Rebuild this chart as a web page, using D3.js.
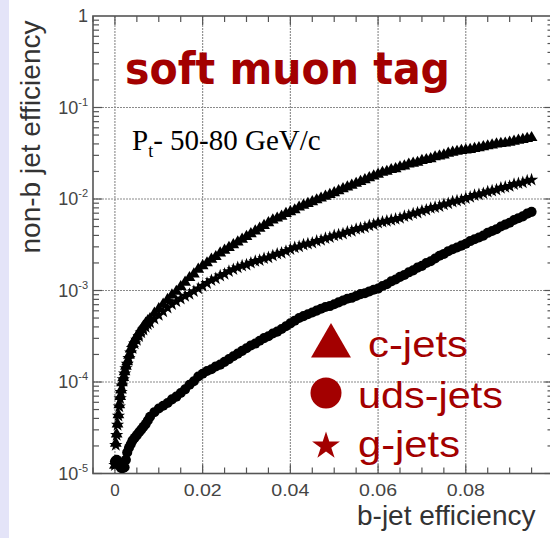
<!DOCTYPE html>
<html>
<head>
<meta charset="utf-8">
<script src="https://cdn.jsdelivr.net/npm/d3@7"></script>
<style>
  html, body { margin: 0; padding: 0; background: #ffffff; }
  svg { display: block; }
</style>
</head>
<body>
<svg id="chart" width="550" height="538"></svg>
<script>
// ---------------- data ----------------
const bEff = [0, 0.0002, 0.0004, 0.0006, 0.0008, 0.001, 0.0012, 0.0014, 0.0016, 0.0019,
  0.0022, 0.0025, 0.0028, 0.0032, 0.0036, 0.004, 0.0045, 0.005, 0.0055, 0.006,
  0.0065, 0.007, 0.0075, 0.008, 0.009, 0.010,
  0.011, 0.012, 0.013, 0.014, 0.015, 0.016, 0.017, 0.018, 0.019, 0.020,
  0.021, 0.022, 0.023, 0.024, 0.025, 0.026, 0.027, 0.028, 0.029, 0.030,
  0.031, 0.032, 0.033, 0.034, 0.035, 0.036, 0.037, 0.038, 0.039, 0.040,
  0.041, 0.042, 0.043, 0.044, 0.045, 0.046, 0.047, 0.048, 0.049, 0.050,
  0.051, 0.052, 0.053, 0.054, 0.055, 0.056, 0.057, 0.058, 0.059, 0.060,
  0.061, 0.062, 0.063, 0.064, 0.065, 0.066, 0.067, 0.068, 0.069, 0.070,
  0.071, 0.072, 0.073, 0.074, 0.075, 0.076, 0.077, 0.078, 0.079, 0.080,
  0.081, 0.082, 0.083, 0.084, 0.085, 0.086, 0.087, 0.088, 0.089, 0.090,
  0.091, 0.092, 0.093, 0.094, 0.095];

const cJets = [1.23e-5, 2.14e-5, 2.69e-5, 3.47e-5, 4.37e-5, 5.62e-5, 6.92e-5, 8.13e-5, 9.77e-5, 1.12e-4,
  1.29e-4, 1.48e-4, 1.66e-4, 1.95e-4, 2.29e-4, 2.63e-4, 2.88e-4, 3.16e-4, 3.47e-4, 3.72e-4,
  4.07e-4, 4.37e-4, 4.68e-4, 4.90e-4, 5.62e-4, 6.31e-4,
  7.08e-4, 7.94e-4, 8.91e-4, 9.77e-4, 1.10e-3, 1.23e-3, 1.38e-3, 1.51e-3, 1.70e-3, 1.86e-3,
  2.00e-3, 2.19e-3, 2.34e-3, 2.57e-3, 2.75e-3, 2.95e-3, 3.16e-3, 3.39e-3, 3.63e-3, 3.89e-3,
  4.17e-3, 4.47e-3, 4.79e-3, 5.13e-3, 5.50e-3, 5.89e-3, 6.17e-3, 6.46e-3, 6.92e-3, 7.24e-3,
  7.59e-3, 8.13e-3, 8.51e-3, 8.91e-3, 9.33e-3, 9.77e-3, 1.02e-2, 1.07e-2, 1.12e-2, 1.17e-2,
  1.23e-2, 1.29e-2, 1.35e-2, 1.41e-2, 1.48e-2, 1.55e-2, 1.62e-2, 1.70e-2, 1.78e-2, 1.86e-2,
  1.95e-2, 2.00e-2, 2.09e-2, 2.14e-2, 2.24e-2, 2.29e-2, 2.40e-2, 2.45e-2, 2.51e-2, 2.63e-2,
  2.69e-2, 2.75e-2, 2.88e-2, 2.95e-2, 3.02e-2, 3.16e-2, 3.24e-2, 3.31e-2, 3.39e-2, 3.43e-2,
  3.47e-2, 3.55e-2, 3.63e-2, 3.72e-2, 3.80e-2, 3.89e-2, 3.98e-2, 4.03e-2, 4.07e-2, 4.17e-2,
  4.27e-2, 4.37e-2, 4.47e-2, 4.57e-2, 4.68e-2];

const udsJets = [1.35e-5, 1.38e-5, 1.41e-5, 1.38e-5, 1.32e-5, 1.26e-5, 1.20e-5, 1.15e-5, 1.15e-5, 1.15e-5,
  1.17e-5, 1.41e-5, 1.70e-5, 1.91e-5, 2.09e-5, 2.29e-5, 2.46e-5, 2.63e-5, 2.82e-5, 3.02e-5,
  3.24e-5, 3.47e-5, 3.80e-5, 4.17e-5, 4.68e-5, 5.13e-5,
  5.50e-5, 5.89e-5, 6.46e-5, 6.92e-5, 7.59e-5, 8.32e-5, 9.33e-5, 1.02e-4, 1.15e-4, 1.23e-4,
  1.32e-4, 1.38e-4, 1.48e-4, 1.55e-4, 1.66e-4, 1.78e-4, 1.91e-4, 2.04e-4, 2.19e-4, 2.34e-4,
  2.51e-4, 2.63e-4, 2.82e-4, 3.02e-4, 3.16e-4, 3.39e-4, 3.55e-4, 3.80e-4, 4.07e-4, 4.37e-4,
  4.68e-4, 5.01e-4, 5.25e-4, 5.50e-4, 5.75e-4, 6.03e-4, 6.31e-4, 6.61e-4, 6.76e-4, 7.08e-4,
  7.41e-4, 7.76e-4, 8.13e-4, 8.32e-4, 8.71e-4, 9.12e-4, 9.33e-4, 9.77e-4, 1.02e-3, 1.05e-3,
  1.12e-3, 1.17e-3, 1.26e-3, 1.32e-3, 1.41e-3, 1.48e-3, 1.58e-3, 1.66e-3, 1.78e-3, 1.86e-3,
  2.00e-3, 2.09e-3, 2.24e-3, 2.40e-3, 2.51e-3, 2.69e-3, 2.82e-3, 2.95e-3, 3.09e-3, 3.24e-3,
  3.47e-3, 3.63e-3, 3.80e-3, 3.98e-3, 4.27e-3, 4.47e-3, 4.68e-3, 5.01e-3, 5.25e-3, 5.50e-3,
  5.89e-3, 6.17e-3, 6.46e-3, 6.92e-3, 7.24e-3];

const gJets = [1.23e-5, 2.04e-5, 2.63e-5, 3.39e-5, 4.27e-5, 5.37e-5, 6.61e-5, 7.76e-5, 9.12e-5, 1.07e-4,
  1.23e-4, 1.41e-4, 1.58e-4, 1.82e-4, 2.09e-4, 2.34e-4, 2.63e-4, 2.88e-4, 3.16e-4, 3.47e-4,
  3.72e-4, 3.98e-4, 4.27e-4, 4.47e-4, 4.90e-4, 5.37e-4,
  5.89e-4, 6.46e-4, 7.08e-4, 7.59e-4, 8.13e-4, 8.71e-4, 9.12e-4, 9.77e-4, 1.05e-3, 1.12e-3,
  1.20e-3, 1.29e-3, 1.35e-3, 1.45e-3, 1.51e-3, 1.62e-3, 1.70e-3, 1.78e-3, 1.86e-3, 1.91e-3,
  2.00e-3, 2.09e-3, 2.14e-3, 2.24e-3, 2.29e-3, 2.40e-3, 2.51e-3, 2.57e-3, 2.69e-3, 2.82e-3,
  2.95e-3, 3.02e-3, 3.16e-3, 3.24e-3, 3.31e-3, 3.47e-3, 3.55e-3, 3.72e-3, 3.80e-3, 3.98e-3,
  4.07e-3, 4.17e-3, 4.37e-3, 4.47e-3, 4.68e-3, 4.79e-3, 4.90e-3, 5.13e-3, 5.25e-3, 5.50e-3,
  5.62e-3, 5.75e-3, 5.89e-3, 6.03e-3, 6.17e-3, 6.46e-3, 6.61e-3, 6.92e-3, 7.08e-3, 7.41e-3,
  7.59e-3, 7.94e-3, 8.13e-3, 8.32e-3, 8.71e-3, 8.91e-3, 9.33e-3, 9.55e-3, 9.77e-3, 1.02e-2,
  1.05e-2, 1.10e-2, 1.12e-2, 1.15e-2, 1.20e-2, 1.23e-2, 1.26e-2, 1.32e-2, 1.35e-2, 1.38e-2,
  1.45e-2, 1.48e-2, 1.51e-2, 1.58e-2, 1.62e-2];

const xTickValues = [0, 0.02, 0.04, 0.06, 0.08];
const xTickLabels = ["0", "0.02", "0.04", "0.06", "0.08"];
const yTickValues = [1, 1e-1, 1e-2, 1e-3, 1e-4, 1e-5];
const yTickExponents = ["", "-1", "-2", "-3", "-4", "-5"];

const seriesNames = ["c-jets", "uds-jets", "g-jets"];
const titleText = "soft muon tag";
const xTitle = "b-jet efficiency";
const yTitle = "non-b jet efficiency";

// ---------------- layout ----------------
const svg = d3.select("#chart");
const RED = "#a30000";
const AXIS = "#555";

const x = d3.scaleLinear().domain([-0.005, 0.1]).range([93, 553.5]);
const y = d3.scaleLog().domain([1e-5, 1]).range([473.5, 16]);

// left lavender strip
svg.append("rect").attr("x", 0).attr("y", 0).attr("width", 9).attr("height", 538).attr("fill", "#e4e4f8");

const plot = svg.append("g");
plot.append("rect").attr("x", x(-0.005)).attr("y", y(1))
  .attr("width", x(0.1) - x(-0.005)).attr("height", y(1e-5) - y(1)).attr("fill", "#fff");

// grid
const grid = plot.append("g").attr("stroke", "#8a8a8a").attr("stroke-width", 1.1).attr("stroke-dasharray", "2,1");
grid.selectAll("line.vx").data(xTickValues).join("line")
  .attr("x1", d => x(d)).attr("x2", d => x(d)).attr("y1", y(1)).attr("y2", y(1e-5));
grid.selectAll("line.hy").data(yTickValues.filter(v => v < 1 && v > 1e-5)).join("line")
  .attr("x1", x(-0.005)).attr("x2", x(0.1)).attr("y1", d => y(d)).attr("y2", d => y(d));

// minor/major ticks
const ticks = plot.append("g").attr("stroke", AXIS).attr("stroke-width", 1.2);
const xMinor = d3.range(0, 21).map(i => -0.005 + i * 0.005);
xMinor.forEach(v => {
  const major = xTickValues.some(t => Math.abs(t - v) < 1e-9);
  const len = major ? 9 : 6;
  ticks.append("line").attr("x1", x(v)).attr("x2", x(v)).attr("y1", y(1e-5)).attr("y2", y(1e-5) - len);
  ticks.append("line").attr("x1", x(v)).attr("x2", x(v)).attr("y1", y(1)).attr("y2", y(1) + len);
});
for (let e = -5; e < 0; e++) {
  for (let m = 1; m <= 9; m++) {
    const v = m * Math.pow(10, e);
    const len = m === 1 ? 9 : 6;
    ticks.append("line").attr("x1", x(-0.005)).attr("x2", x(-0.005) + len).attr("y1", y(v)).attr("y2", y(v));
    ticks.append("line").attr("x1", x(0.1)).attr("x2", x(0.1) - len).attr("y1", y(v)).attr("y2", y(v));
  }
}

// frame
plot.append("rect").attr("x", x(-0.005)).attr("y", y(1))
  .attr("width", x(0.1) - x(-0.005)).attr("height", y(1e-5) - y(1))
  .attr("fill", "none").attr("stroke", AXIS).attr("stroke-width", 1.6);

// tick labels
const labelFont = "'Liberation Sans', Arial, sans-serif";
svg.append("g").selectAll("text").data(xTickValues).join("text")
  .attr("x", d => x(d)).attr("y", 496).attr("text-anchor", "middle")
  .attr("font-family", labelFont).attr("font-size", 17).attr("fill", "#444")
  .attr("textLength", (d, i) => xTickLabels[i].length === 1 ? null : 38)
  .attr("lengthAdjust", "spacingAndGlyphs")
  .text((d, i) => xTickLabels[i]);

const yl = svg.append("g");
yTickValues.forEach((v, i) => {
  const t = yl.append("text").attr("x", 88).attr("y", y(v) + 6).attr("text-anchor", "end")
    .attr("font-family", labelFont).attr("font-size", 18).attr("fill", "#444");
  if (yTickExponents[i] === "") { t.text("1"); }
  else {
    t.append("tspan").text("10");
    t.append("tspan").attr("font-size", 11).attr("dy", -8).text(yTickExponents[i]);
  }
});

// axis titles
svg.append("text").attr("x", 357).attr("y", 525)
  .attr("font-family", labelFont).attr("font-size", 28).attr("fill", "#333").text(xTitle);
svg.append("text").attr("transform", "translate(40,137) rotate(-90)").attr("text-anchor", "middle")
  .attr("font-family", labelFont).attr("font-size", 28).attr("fill", "#333").text(yTitle);

// data markers
const sym = (type, size) => d3.symbol().type(type).size(size)();
const dataG = plot.append("g").attr("fill", "#000");
function drawSeries(values, type, size) {
  dataG.append("g").selectAll("path").data(bEff.map((b, i) => [b, values[i]])).join("path")
    .attr("transform", d => `translate(${x(d[0])},${y(d[1])})`)
    .attr("d", sym(type, size));
}
drawSeries(udsJets, d3.symbolCircle, 80);
drawSeries(gJets, d3.symbolStar, 55);
drawSeries(cJets, d3.symbolTriangle, 60);

// title
svg.append("text").attr("x", 125).attr("y", 84)
  .attr("font-family", "'DejaVu Sans', sans-serif").attr("font-weight", "bold")
  .attr("font-size", 44).attr("fill", RED)
  .attr("textLength", 325).attr("lengthAdjust", "spacingAndGlyphs").text(titleText);

// Pt label
const pt = svg.append("text").attr("x", 132).attr("y", 150)
  .attr("font-family", "'Liberation Serif', 'Times New Roman', serif").attr("font-size", 29).attr("fill", "#000");
pt.append("tspan").text("P");
pt.append("tspan").attr("font-size", 18).attr("dy", 7).text("t");
pt.append("tspan").attr("dy", -7).text("- 50-80 GeV/c");

// legend
const leg = svg.append("g").attr("fill", RED);
const legendItems = [
  { name: seriesNames[0], type: d3.symbolTriangle, size: 690, cx: 331, cy: 346, tx: 368, ty: 357, len: 100 },
  { name: seriesNames[1], type: d3.symbolCircle, size: 755, cx: 326, cy: 393, tx: 358, ty: 408, len: 145 },
  { name: seriesNames[2], type: d3.symbolStar, size: 240, cx: 326, cy: 446, tx: 358, ty: 457, len: 102 }
];
legendItems.forEach(it => {
  leg.append("path").attr("transform", `translate(${it.cx},${it.cy})`).attr("d", sym(it.type, it.size));
  leg.append("text").attr("x", it.tx).attr("y", it.ty)
    .attr("font-family", labelFont).attr("font-size", 37)
    .attr("textLength", it.len).attr("lengthAdjust", "spacingAndGlyphs").text(it.name);
});
</script>
</body>
</html>
